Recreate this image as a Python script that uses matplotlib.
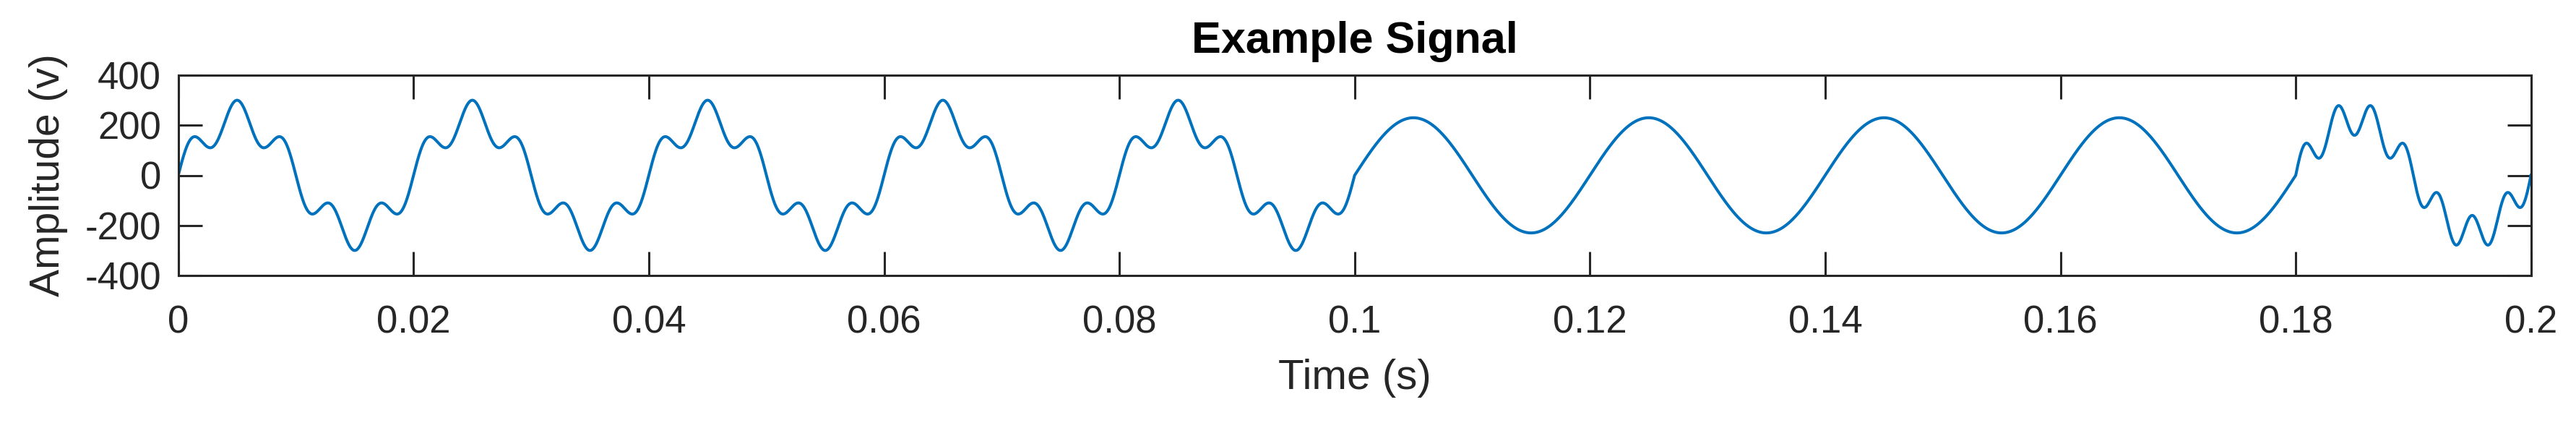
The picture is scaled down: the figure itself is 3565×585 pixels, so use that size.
import numpy as np
import matplotlib
matplotlib.use("Agg")
import matplotlib.pyplot as plt

# signal: a 50 Hz carrier everywhere,
# plus a harmonic that is switched on in the first and last segment
seg_start = [0.0, 0.1, 0.18]
seg_end = [0.1, 0.18, 0.2]
base_freq = 50        # Hz
base_amp = 230        # v
extra_freq = [250, 0, 350]   # Hz
extra_amp = [70, 0, 70]      # v

x_ticks = [0, 0.02, 0.04, 0.06, 0.08, 0.1, 0.12, 0.14, 0.16, 0.18, 0.2]
x_ticklabels = ["0", "0.02", "0.04", "0.06", "0.08", "0.1", "0.12", "0.14", "0.16", "0.18", "0.2"]
y_ticks = [-400, -200, 0, 200, 400]

FS = 20000
t_parts = []
v_parts = []
for i in range(len(seg_start)):
    t = np.arange(seg_start[i], seg_end[i], 1 / FS)
    if i == len(seg_start) - 1:
        t = np.append(t, seg_end[i])
    v = base_amp * np.sin(2 * np.pi * base_freq * t)
    v = v + extra_amp[i] * np.sin(2 * np.pi * extra_freq[i] * t)
    t_parts.append(t)
    v_parts.append(v)
time = np.concatenate(t_parts)
signal = np.concatenate(v_parts)

plt.rcParams['font.family'] = ['Liberation Sans', 'DejaVu Sans']
plt.rcParams['axes.unicode_minus'] = False
AXCOL = '#262626'

fig = plt.figure(figsize=(35.66, 5.85), dpi=100)
ax = fig.add_axes([246.7 / 3566, 1 - 381 / 585, (3502.7 - 246.7) / 3566, (381 - 104) / 585])
ax.plot(time, signal, color='#0072BD', linewidth=2.9)

ax.set_xlim(0, 0.2)
ax.set_ylim(-400, 400)
ax.set_xticks(x_ticks)
ax.set_xticklabels(x_ticklabels)
ax.set_yticks(y_ticks)
for s in ax.spines.values():
    s.set_color(AXCOL)
    s.set_linewidth(2.2)
ax.tick_params(direction='in', length=23.5, width=2.2, color=AXCOL,
               labelcolor=AXCOL, labelsize=38, top=True, right=True)
ax.tick_params(axis='x', pad=29)
ax.tick_params(axis='y', pad=17)

ax.set_xlabel("Time (s)", fontsize=42, color=AXCOL, labelpad=18)
ax.set_ylabel("Amplitude (v)", fontsize=41, color=AXCOL, labelpad=17)
ax.set_title("Example Signal", fontsize=44, fontweight='bold', color='black', pad=22)

fig.savefig("out.png", dpi=100)
